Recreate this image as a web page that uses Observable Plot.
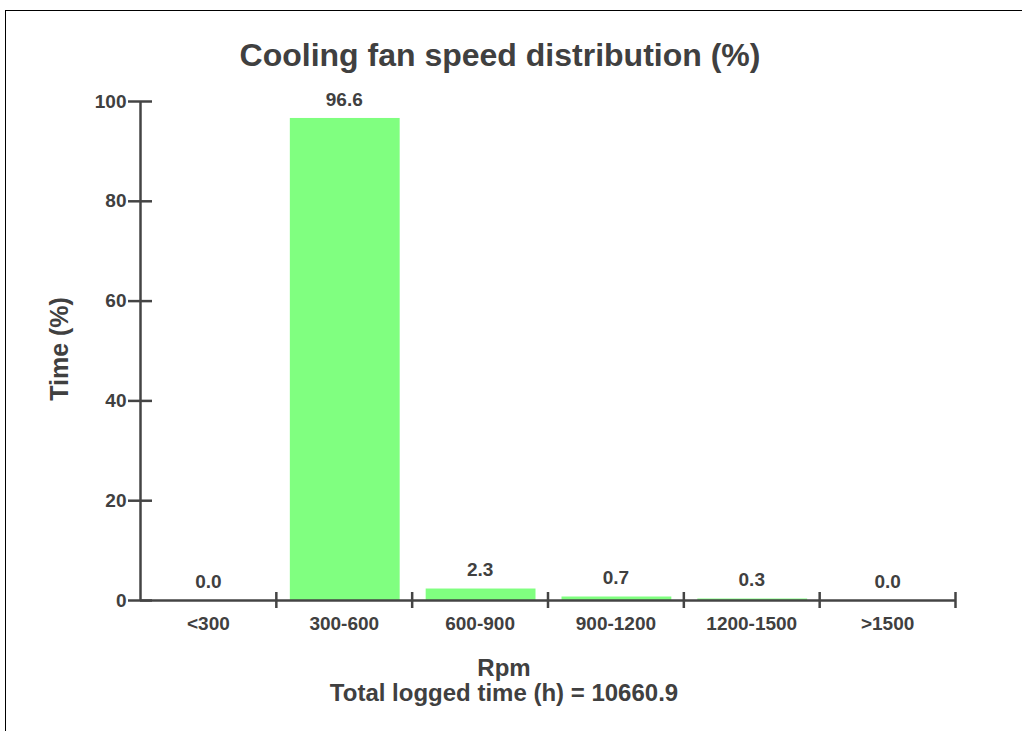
<!DOCTYPE html>
<html>
<head>
<meta charset="utf-8">
<script src="https://cdn.jsdelivr.net/npm/d3@7"></script>
<script src="https://cdn.jsdelivr.net/npm/@observablehq/plot@0.6"></script>
<style>
  html, body { margin: 0; padding: 0; background: #fff; }
  #wrap { position: relative; width: 1022px; height: 731px; overflow: hidden; font-family: "Liberation Sans", Arial, Helvetica, sans-serif; font-weight: bold; color: #404040; }
  #frame { position: absolute; left: 5px; top: 10px; width: 1030px; height: 740px; border-top: 1.5px solid #000; border-left: 1.5px solid #000; }
  .lbl { position: absolute; transform: translate(-50%, -50%); white-space: nowrap; }
  #chart { position: absolute; left: 0; top: 0; }
</style>
</head>
<body>
<div id="wrap">
  <div id="frame"></div>
  <div id="chart"></div>
  <div class="lbl" style="left:500px; top:55px; font-size:32px;">Cooling fan speed distribution (%)</div>
  <div class="lbl" style="left:59px; top:349px; font-size:25px; transform: translate(-50%, -50%) rotate(-90deg);">Time (%)</div>
  <div class="lbl" style="left:504px; top:668px; font-size:24px;">Rpm</div>
  <div class="lbl" style="left:504px; top:693px; font-size:24px;">Total logged time (h) = 10660.9</div>
</div>
<script>
const categories = ["<300", "300-600", "600-900", "900-1200", "1200-1500", ">1500"];
const values = [0.0, 96.6, 2.3, 0.7, 0.3, 0.0];
const yTicks = [0, 20, 40, 60, 80, 100];

const data = categories.map((c, i) => ({cat: c, i, v: values[i]}));
const bounds = d3.range(1, categories.length + 1);
const axisColor = "#444";

const chart = Plot.plot({
  width: 1022,
  height: 731,
  marginLeft: 140,
  marginRight: 67,
  marginTop: 101,
  marginBottom: 131,
  style: {fontFamily: "'Liberation Sans', Arial, sans-serif", fontWeight: "bold", color: "#404040", background: "transparent"},
  x: {domain: [0, categories.length], axis: null},
  y: {domain: [0, 100], axis: null},
  marks: [
    Plot.rectY(data, {x1: "i", x2: d => d.i + 1, y1: 0, y2: "v", fill: "#80ff80", insetLeft: 14, insetRight: 12}),
    Plot.ruleY([0], {stroke: axisColor, strokeWidth: 2.5}),
    Plot.ruleX([0], {stroke: axisColor, strokeWidth: 2.5}),
    Plot.ruleX(bounds, {x: d => d, y1: 0, y2: 0, insetTop: -8, insetBottom: -8, stroke: axisColor, strokeWidth: 2.5}),
    Plot.ruleY(yTicks, {y: d => d, x1: 0, x2: 0, insetLeft: -12, insetRight: -12, stroke: axisColor, strokeWidth: 2.5}),
    Plot.text(yTicks, {y: d => d, x: 0, text: d => String(d), textAnchor: "end", dx: -14, fontSize: 19, fill: "#404040"}),
    Plot.text(data, {x: d => d.i + 0.5, y: 0, text: "cat", dy: 23, fontSize: 19, fill: "#404040"}),
    Plot.text(data, {x: d => d.i + 0.5, y: "v", text: d => d.v.toFixed(1), dy: -19, fontSize: 19, fill: "#404040"})
  ]
});
document.getElementById("chart").appendChild(chart);
</script>
</body>
</html>
